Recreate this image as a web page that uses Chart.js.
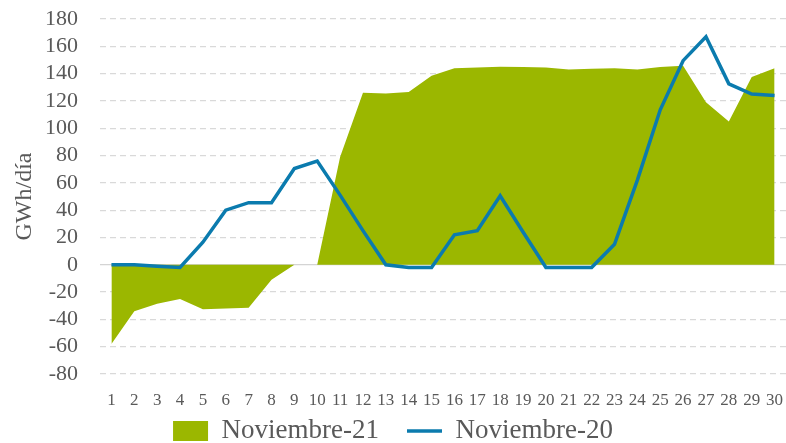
<!DOCTYPE html>
<html>
<head>
<meta charset="utf-8">
<script src="https://cdn.jsdelivr.net/npm/chart.js@4.4.0/dist/chart.umd.min.js"></script>
<style>
  html, body { margin: 0; padding: 0; background: #fff; }
  #wrap { width: 786px; height: 443px; position: relative; }
</style>
</head>
<body>
<div id="wrap"><canvas id="c"></canvas></div>
<script>
const days = ['1','2','3','4','5','6','7','8','9','10','11','12','13','14','15','16','17','18','19','20','21','22','23','24','25','26','27','28','29','30'];
const nov21 = [-58, -34, -28.5, -25, -32.5, -32, -31.5, -11, 0, 0, 79, 126, 125.5, 126.5, 138.5, 144, 144.5, 145, 144.8, 144.5, 143, 143.6, 144, 143, 144.8, 145.8, 119, 105, 137.5, 144];
const nov20 = [0, 0, -1, -2, 16.5, 40, 45.5, 45.5, 70.5, 76, 51, 25, 0, -2, -2, 22, 25, 50.5, 24, -2, -2, -2, 15, 62, 113.5, 149.5, 167, 132.5, 125, 124];
const yTicks = { min: -80, max: 180, step: 20 };
const seriesNames = ['Noviembre-21', 'Noviembre-20'];

const FONT = "'Liberation Serif', 'Times New Roman', serif";
const TXT = '#595959';
const CLEAR = 'rgba(0,0,0,0)';

// vertical nudge of the legend row after layout
const legendShift = {
  id: 'legendShift',
  afterLayout(chart) {
    const l = chart.legend;
    if (l) { l.top -= 24.5; l.bottom -= 24.5; }
  }
};

new Chart(document.getElementById('c'), {
  type: 'line',
  data: {
    labels: days,
    datasets: [
      {
        label: seriesNames[0],
        data: nov21,
        fill: 'origin',
        backgroundColor: '#9BB700',
        borderColor: '#9BB700',
        borderWidth: 0,
        pointRadius: 0,
        tension: 0,
        order: 1,
        pointStyle: 'rect'
      },
      {
        label: seriesNames[1],
        data: nov20,
        fill: false,
        borderColor: '#0B7BAE',
        backgroundColor: '#0B7BAE',
        borderWidth: 3.5,
        pointRadius: 0,
        tension: 0,
        order: 0,
        pointStyle: 'line',
        borderJoinStyle: 'miter'
      }
    ]
  },
  plugins: [legendShift],
  options: {
    responsive: true,
    maintainAspectRatio: false,
    animation: false,
    layout: { padding: { top: 19, right: 0, left: 0, bottom: -36 } },
    plugins: {
      tooltip: { enabled: false },
      legend: {
        position: 'bottom',
        labels: {
          usePointStyle: true,
          pointStyleWidth: 35,
          boxHeight: 20,
          padding: 28,
          color: TXT,
          font: { family: FONT, size: 27 },
          sort: (a, b) => a.datasetIndex - b.datasetIndex
        }
      }
    },
    scales: {
      x: {
        type: 'category',
        offset: true,
        afterFit: s => { s.height = 40; },
        grid: { display: true, drawOnChartArea: false, drawTicks: true, tickLength: 16, tickColor: CLEAR, color: CLEAR },
        border: { display: false },
        ticks: {
          color: TXT,
          font: { family: FONT, size: 17 },
          padding: 0,
          autoSkip: false,
          maxRotation: 0,
          minRotation: 0
        }
      },
      y: {
        min: yTicks.min,
        max: yTicks.max,
        afterFit: s => { s.width = 100; },
        ticks: {
          stepSize: yTicks.step,
          autoSkip: false,
          color: TXT,
          font: { family: FONT, size: 22 },
          padding: 0
        },
        grid: {
          drawTicks: true,
          tickLength: 22,
          tickColor: CLEAR,
          color: ctx => ctx.tick && ctx.tick.value === 0 ? '#D4D4D4' : '#D9D9D9',
          lineWidth: 1.3
        },
        border: {
          display: false,
          dash: ctx => (ctx.tick && ctx.tick.value === 0) ? [] : [6, 4]
        },
        title: {
          display: true,
          text: 'GWh/día',
          color: TXT,
          font: { family: FONT, size: 24 },
          padding: { top: 10, bottom: 0 }
        }
      }
    }
  }
});
</script>
</body>
</html>
